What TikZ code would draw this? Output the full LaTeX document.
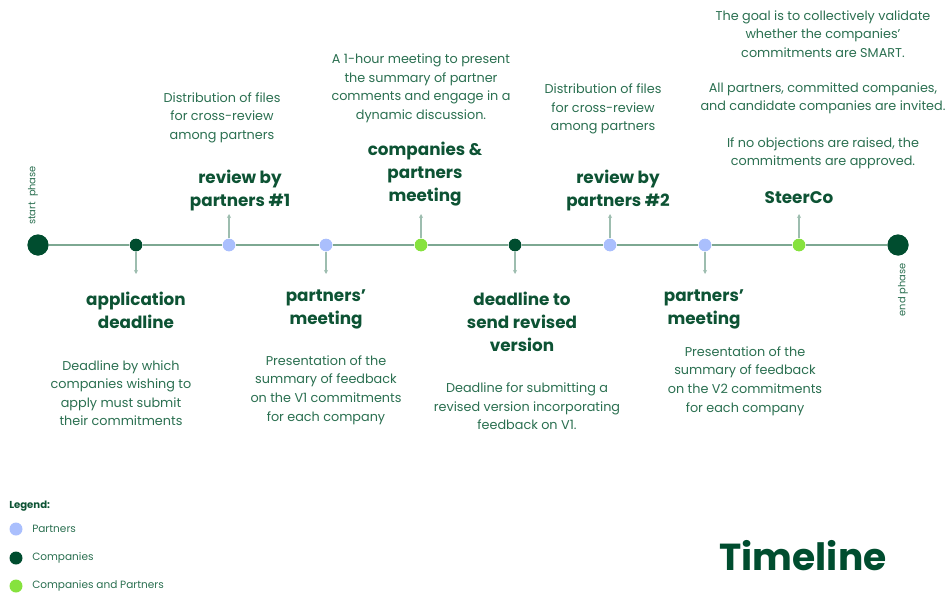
\documentclass[tikz,border=0pt]{standalone}
\usepackage{fontspec}
\setmainfont{Poppins}
\usetikzlibrary{arrows.meta}
\definecolor{dkgreen}{HTML}{004D2F}
\definecolor{headc}{HTML}{0D5334}
\definecolor{textc}{HTML}{2A6F50}
\definecolor{linec}{HTML}{7DA892}
\definecolor{arrc}{HTML}{9DBDAF}
\definecolor{pblue}{HTML}{AABFFD}
\definecolor{cgreen}{HTML}{86E23E}
\tikzset{
  evt/.style={circle,inner sep=0pt,minimum size=12.5*0.75pt},
  bigevt/.style={circle,inner sep=0pt,minimum size=21*0.75pt,fill=dkgreen},
  partner/.style={evt,fill=pblue},
  company/.style={evt,fill=dkgreen},
  both/.style={evt,fill=cgreen},
  tick/.style={draw=arrc,line width=0.9pt,-{Stealth[length=3pt,width=3pt]}},
  heading/.style={align=center,text=headc,font=\fontsize{12.6pt}{17.2pt}\selectfont\bfseries,inner sep=0pt},
  desc/.style={align=center,text=textc,font=\fontsize{9.6pt}{13.9pt}\selectfont,inner sep=0pt},
  phase/.style={rotate=90,text=textc,font=\fontsize{7.4pt}{9pt}\selectfont,inner sep=0pt},
  legtext/.style={anchor=west,text=textc,font=\fontsize{7.9pt}{9pt}\selectfont,inner sep=0pt},
}
\begin{document}
\begin{tikzpicture}[x=0.75pt,y=-0.75pt]
\useasboundingbox (0,0) rectangle (948,592);
% timeline events
\node[bigevt] (start) at (38,245) {};
\node[bigevt] (end) at (898,245) {};
\node[company] (e1) at (136,245) {};
\node[partner] (e2) at (229,245) {};
\node[partner] (e3) at (326,245) {};
\node[both] (e4) at (421,245) {};
\node[company] (e5) at (515,245) {};
\node[partner] (e6) at (610,245) {};
\node[partner] (e7) at (705,245) {};
\node[both] (e8) at (799,245) {};
\draw[linec,line width=1.8pt] (start) -- (e1) -- (e2) -- (e3) -- (e4) -- (e5) -- (e6) -- (e7) -- (e8) -- (end);
% redraw circles on top
\node[bigevt] at (start) {};
\node[bigevt] at (end) {};
\node[company] at (e1) {};
\node[partner] at (e2) {};
\node[partner] at (e3) {};
\node[both] at (e4) {};
\node[company] at (e5) {};
\node[partner] at (e6) {};
\node[partner] at (e7) {};
\node[both] at (e8) {};
% tick coordinates
\coordinate (t1) at (136,274);
\coordinate (t2) at (229,214);
\coordinate (t3) at (326,274);
\coordinate (t4) at (421,214);
\coordinate (t5) at (515,274);
\coordinate (t6) at (610,214);
\coordinate (t7) at (705,274);
\coordinate (t8) at (799,214);
\draw[tick] (e1) -- (t1);
\draw[tick] (e2) -- (t2);
\draw[tick] (e3) -- (t3);
\draw[tick] (e4) -- (t4);
\draw[tick] (e5) -- (t5);
\draw[tick] (e6) -- (t6);
\draw[tick] (e7) -- (t7);
\draw[tick] (e8) -- (t8);
% phase labels
\node[phase] (sp) at (33,195.5) {start\ \ phase};
\node[phase] (ep) at (903,290) {end phase};
% headings
\node[heading] (h1) at (136,310.5) {application\\deadline};
\node[heading] (h2) at (240,190.5) {review by\\partners \#1};
\node[heading] (h3) at (326,309) {partners’\\meeting};
\node[heading] (h4) at (425,174) {companies \&\\partners\\meeting};
\node[heading] (h5) at (522,322) {deadline to\\send revised\\version};
\node[heading] (h6) at (618,190.5) {review by\\partners \#2};
\node[heading] (h7) at (704,309) {partners’\\meeting};
\node[heading] (h8) at (799,198) {SteerCo};
% descriptions
\node[desc] (d1) at (121,393) {Deadline by which\\companies wishing to\\apply must submit\\their commitments};
\node[desc] (d2) at (222,117.5) {Distribution of files\\for cross-review\\among partners};
\node[desc] (d3) at (326,390) {Presentation of the\\summary of feedback\\on the V1 commitments\\for each company};
\node[desc] (d4) at (421,88.5) {A 1-hour meeting to present\\the summary of partner\\comments and engage in a\\dynamic discussion.};
\node[desc] (d5) at (527,406.5) {Deadline for submitting a\\revised version incorporating\\feedback on V1.};
\node[desc] (d6) at (603,109) {Distribution of files\\for cross-review\\among partners};
\node[desc] (d7) at (745,381) {Presentation of the\\summary of feedback\\on the V2 commitments\\for each company};
\node[desc] (d8a) at (823,34) {The goal is to collectively validate\\whether the companies'\\commitments are SMART.};
\node[desc] (d8b) at (823,98.5) {All partners, committed companies,\\and candidate companies are invited.};
\node[desc] (d8c) at (823,153.5) {If no objections are raised, the\\commitments are approved.};
% legend
\node[anchor=west,text=headc,font=\fontsize{7.6pt}{9pt}\selectfont\bfseries,inner sep=0pt] (lg) at (9,506) {Legend:};
\node[partner,minimum size=13*0.75pt] (l1) at (16,529) {};
\node[company,minimum size=13*0.75pt] (l2) at (16,558) {};
\node[both,minimum size=13*0.75pt] (l3) at (16,586) {};
\node[legtext] (lt1) at (32,529) {Partners};
\node[legtext] (lt2) at (32,558) {Companies};
\node[legtext] (lt3) at (32,586) {Companies and Partners};
% title
\node[text=dkgreen,font=\fontsize{28.2pt}{34pt}\selectfont\bfseries,inner sep=0pt] (title) at (803,556) {Timeline};
\end{tikzpicture}
\end{document}
